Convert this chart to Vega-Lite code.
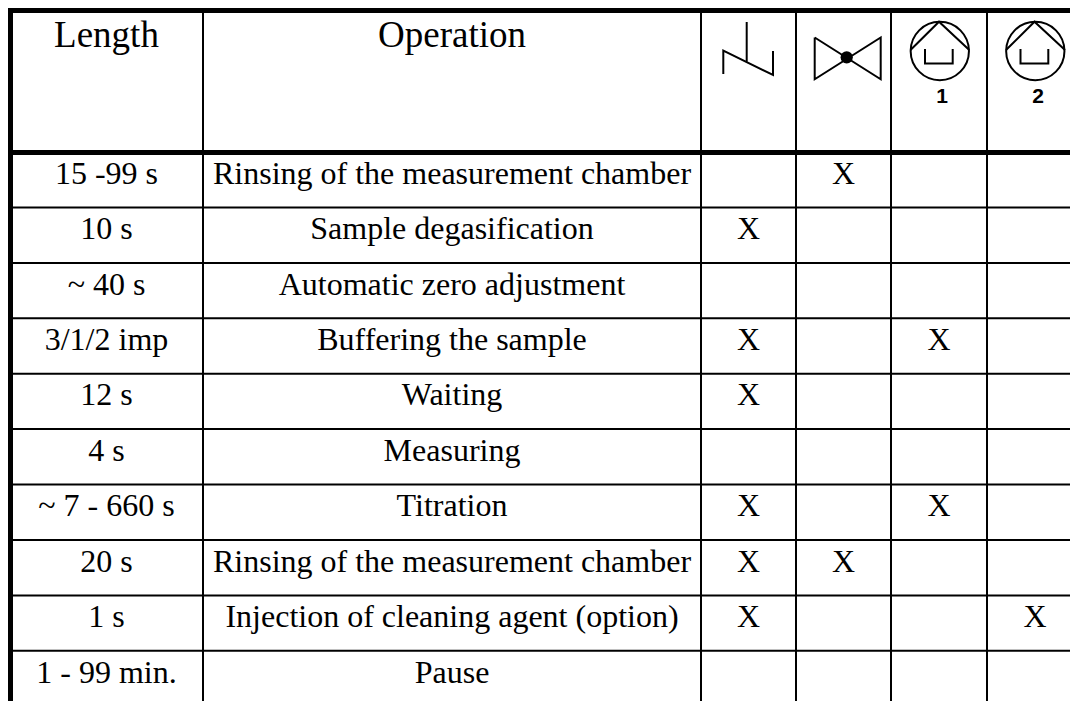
{"$schema":"https://vega.github.io/schema/vega-lite/v6.json","width":1070,"height":701,"autosize":{"type":"none"},"padding":0,"background":"white","config":{"view":{"stroke":null},"axis":{"domain":false,"labels":false,"ticks":false,"grid":false,"title":null}},
"datasets":{
"columns":[{"column":"Length","center":106.5},{"column":"Operation","center":452},{"column":"Drain","center":748.5},{"column":"Valve","center":843.5},{"column":"Pump 1","center":939},{"column":"Pump 2","center":1035}],
"rows":[{"row":0,"baseline":46.7},{"row":1,"baseline":183.7},{"row":2,"baseline":239},{"row":3,"baseline":294.5},{"row":4,"baseline":350},{"row":5,"baseline":405.3},{"row":6,"baseline":460.7},{"row":7,"baseline":516},{"row":8,"baseline":571.5},{"row":9,"baseline":627},{"row":10,"baseline":683}],
"header":[{"row":0,"column":"Length","text":"Length"},{"row":0,"column":"Operation","text":"Operation"}],
"cells":[
{"row":1,"column":"Length","text":"15 -99 s"},{"row":1,"column":"Operation","text":"Rinsing of the measurement chamber"},{"row":1,"column":"Valve","text":"X"},
{"row":2,"column":"Length","text":"10 s"},{"row":2,"column":"Operation","text":"Sample degasification"},{"row":2,"column":"Drain","text":"X"},
{"row":3,"column":"Length","text":"~ 40 s"},{"row":3,"column":"Operation","text":"Automatic zero adjustment"},
{"row":4,"column":"Length","text":"3/1/2 imp"},{"row":4,"column":"Operation","text":"Buffering the sample"},{"row":4,"column":"Drain","text":"X"},{"row":4,"column":"Pump 1","text":"X"},
{"row":5,"column":"Length","text":"12 s"},{"row":5,"column":"Operation","text":"Waiting"},{"row":5,"column":"Drain","text":"X"},
{"row":6,"column":"Length","text":"4 s"},{"row":6,"column":"Operation","text":"Measuring"},
{"row":7,"column":"Length","text":"~ 7 - 660 s"},{"row":7,"column":"Operation","text":"Titration"},{"row":7,"column":"Drain","text":"X"},{"row":7,"column":"Pump 1","text":"X"},
{"row":8,"column":"Length","text":"20 s"},{"row":8,"column":"Operation","text":"Rinsing of the measurement chamber"},{"row":8,"column":"Drain","text":"X"},{"row":8,"column":"Valve","text":"X"},
{"row":9,"column":"Length","text":"1 s"},{"row":9,"column":"Operation","text":"Injection of cleaning agent (option)"},{"row":9,"column":"Drain","text":"X"},{"row":9,"column":"Pump 2","text":"X"},
{"row":10,"column":"Length","text":"1 - 99 min."},{"row":10,"column":"Operation","text":"Pause"}]
},
"layer":[
{"data":{"values":[{"x":203,"y":8,"y2":701},{"x":701,"y":8,"y2":701},{"x":796,"y":8,"y2":701},{"x":891,"y":8,"y2":701},{"x":987,"y":8,"y2":701}]},"mark":{"type":"rule","strokeWidth":2,"color":"black"},
"encoding":{"x":{"field":"x","type":"quantitative","scale":{"domain":[0,1070],"nice":false,"zero":false},"axis":null},"y":{"field":"y","type":"quantitative","scale":{"domain":[0,701],"reverse":true,"nice":false,"zero":false},"axis":null},"y2":{"field":"y2"}}},
{"data":{"values":[{"x":10.5,"y":8,"y2":701}]},"mark":{"type":"rule","strokeWidth":5,"color":"black"},
"encoding":{"x":{"field":"x","type":"quantitative"},"y":{"field":"y","type":"quantitative"},"y2":{"field":"y2"}}},
{"data":{"values":[{"y":207.5,"x":8,"x2":1070},{"y":262.9,"x":8,"x2":1070},{"y":318.3,"x":8,"x2":1070},{"y":373.7,"x":8,"x2":1070},{"y":429,"x":8,"x2":1070},{"y":484.5,"x":8,"x2":1070},{"y":540,"x":8,"x2":1070},{"y":595.5,"x":8,"x2":1070},{"y":650.7,"x":8,"x2":1070}]},"mark":{"type":"rule","strokeWidth":2,"color":"black"},
"encoding":{"x":{"field":"x","type":"quantitative"},"x2":{"field":"x2"},"y":{"field":"y","type":"quantitative"}}},
{"data":{"values":[{"y":10.5,"x":8,"x2":1070},{"y":152.5,"x":8,"x2":1070}]},"mark":{"type":"rule","strokeWidth":5,"color":"black"},
"encoding":{"x":{"field":"x","type":"quantitative"},"x2":{"field":"x2"},"y":{"field":"y","type":"quantitative"}}},
{"data":{"name":"header"},"transform":[{"lookup":"column","from":{"data":{"name":"columns"},"key":"column","fields":["center"]}},{"lookup":"row","from":{"data":{"name":"rows"},"key":"row","fields":["baseline"]}}],
"mark":{"type":"text","font":"Liberation Serif","fontSize":37,"align":"center","baseline":"alphabetic","color":"black"},
"encoding":{"x":{"field":"center","type":"quantitative"},"y":{"field":"baseline","type":"quantitative"},"text":{"field":"text"}}},
{"data":{"name":"cells"},"transform":[{"lookup":"column","from":{"data":{"name":"columns"},"key":"column","fields":["center"]}},{"lookup":"row","from":{"data":{"name":"rows"},"key":"row","fields":["baseline"]}}],
"mark":{"type":"text","font":"Liberation Serif","fontSize":32,"align":"center","baseline":"alphabetic","color":"black"},
"encoding":{"x":{"field":"center","type":"quantitative"},"y":{"field":"baseline","type":"quantitative"},"text":{"field":"text"}}},
{"data":{"values":[{"part":"drain stem","seq":1,"x":746.7,"y":22},{"part":"drain stem","seq":2,"x":746.7,"y":61.7},{"part":"drain body","seq":1,"x":723.3,"y":74},{"part":"drain body","seq":2,"x":723.3,"y":50.7},{"part":"drain body","seq":3,"x":773,"y":75},{"part":"drain body","seq":4,"x":773,"y":51},
{"part":"bowtie","seq":1,"x":814.7,"y":37.5},{"part":"bowtie","seq":2,"x":814.7,"y":79.3},{"part":"bowtie","seq":3,"x":880.7,"y":37.5},{"part":"bowtie","seq":4,"x":880.7,"y":79.3},{"part":"bowtie","seq":5,"x":814.7,"y":37.5},
{"part":"roof 1","seq":1,"x":910.5,"y":50},{"part":"roof 1","seq":2,"x":939,"y":21.7},{"part":"roof 1","seq":3,"x":969.3,"y":50},
{"part":"bucket 1","seq":1,"x":925,"y":49},{"part":"bucket 1","seq":2,"x":925,"y":63.5},{"part":"bucket 1","seq":3,"x":952.7,"y":63.5},{"part":"bucket 1","seq":4,"x":952.7,"y":49},
{"part":"roof 2","seq":1,"x":1006,"y":50},{"part":"roof 2","seq":2,"x":1034.5,"y":21.7},{"part":"roof 2","seq":3,"x":1065,"y":50},
{"part":"bucket 2","seq":1,"x":1020.5,"y":49},{"part":"bucket 2","seq":2,"x":1020.5,"y":63.5},{"part":"bucket 2","seq":3,"x":1048.3,"y":63.5},{"part":"bucket 2","seq":4,"x":1048.3,"y":49}]},
"mark":{"type":"line","strokeWidth":2,"color":"black","strokeJoin":"miter"},
"encoding":{"x":{"field":"x","type":"quantitative"},"y":{"field":"y","type":"quantitative"},"detail":{"field":"part"},"order":{"field":"seq"}}},
{"data":{"values":[{"x":939.8,"y":51},{"x":1035.3,"y":51}]},"mark":{"type":"point","shape":"circle","filled":false,"size":3400,"strokeWidth":2,"color":"black","opacity":1},
"encoding":{"x":{"field":"x","type":"quantitative"},"y":{"field":"y","type":"quantitative"}}},
{"data":{"values":[{"x":846.7,"y":57.3}]},"mark":{"type":"point","shape":"circle","filled":true,"size":150,"color":"black","opacity":1},
"encoding":{"x":{"field":"x","type":"quantitative"},"y":{"field":"y","type":"quantitative"}}},
{"data":{"values":[{"x":942,"y":103,"label":"1"},{"x":1038,"y":103,"label":"2"}]},"mark":{"type":"text","font":"Liberation Sans","fontWeight":"bold","fontSize":21,"align":"center","baseline":"alphabetic","color":"black"},
"encoding":{"x":{"field":"x","type":"quantitative"},"y":{"field":"y","type":"quantitative"},"text":{"field":"label"}}}
]}
